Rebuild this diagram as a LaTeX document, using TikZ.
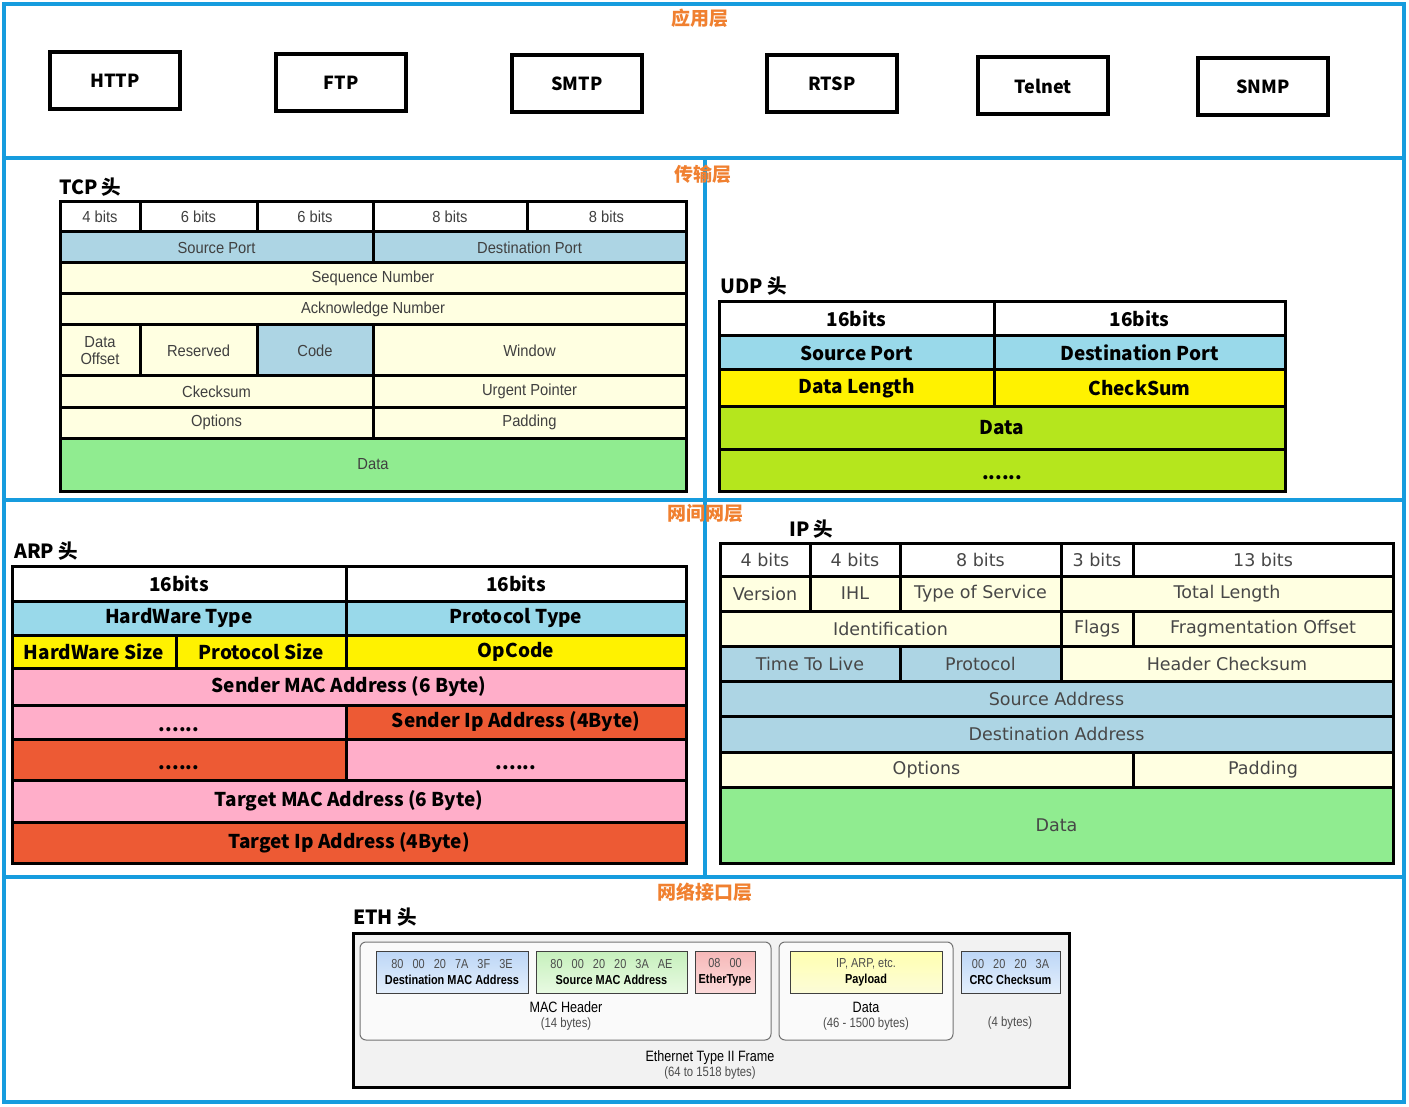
\documentclass[tikz,border=0pt]{standalone}
\usepackage{fontspec}
\usepackage{xcolor}
\usetikzlibrary{positioning}
\newfontfamily\cjk{Noto Sans CJK SC}
\newfontfamily\tcpfont[FakeStretch=0.92]{Liberation Sans}
\newfontfamily\ipfont{DejaVu Sans}
\newfontfamily\ethfont[FakeStretch=0.84]{Liberation Sans}
\definecolor{layerblue}{RGB}{22,156,222}
\definecolor{layerorange}{RGB}{240,128,48}
\definecolor{paleblue}{RGB}{173,213,228}
\definecolor{cream}{RGB}{255,255,225}
\definecolor{palegreen}{RGB}{144,236,144}
\definecolor{skyblue}{RGB}{153,217,234}
\definecolor{brightyellow}{RGB}{255,242,0}
\definecolor{limegreen}{RGB}{181,230,29}
\definecolor{rosepink}{RGB}{255,174,201}
\definecolor{brickred}{RGB}{237,90,52}
\definecolor{ethgray}{RGB}{242,242,242}
\definecolor{macblueA}{RGB}{188,214,246}
\definecolor{macblueB}{RGB}{228,239,252}
\definecolor{macgreenA}{RGB}{198,240,188}
\definecolor{macgreenB}{RGB}{232,250,226}
\definecolor{macredA}{RGB}{246,184,184}
\definecolor{macredB}{RGB}{252,218,218}
\definecolor{payyellowA}{RGB}{255,255,176}
\definecolor{payyellowB}{RGB}{252,252,216}
\tikzset{
  layerline/.style={layerblue, line width=4pt},
  layertitle/.style={text=layerorange, inner sep=0pt, font=\cjk\bfseries\fontsize{19}{22}\selectfont},
  hdrtitle/.style={anchor=west, inner sep=0pt, font=\cjk\bfseries\fontsize{19.5}{22}\selectfont},
  appbox/.style={draw=black, line width=4pt, fill=white, minimum width=130pt, minimum height=57pt,
    font=\cjk\bfseries\fontsize{18}{21}\selectfont},
  tcpcell/.style={draw=black, line width=3pt, text=black!75, font=\tcpfont\fontsize{16}{17}\selectfont},
  boldcell/.style={draw=black, line width=3pt, text=black, font=\cjk\bfseries\fontsize{19}{22}\selectfont},
  ipcell/.style={draw=black, line width=3pt, text=black!72, font=\ipfont\fontsize{17.5}{20}\selectfont},
  ethpart/.style={draw=black!55, line width=1pt, rounded corners=6pt, fill=white!60!ethgray},
  ethfield/.style={draw=black!75, line width=1pt, align=center, font=\ethfont\fontsize{13}{16}\selectfont},
  ethtext/.style={align=center, font=\ethfont\fontsize{15}{15}\selectfont},
  dots/.style={yshift=-8pt}
}

\begin{document}
\begin{tikzpicture}[x=1pt, y=-1pt]
  \useasboundingbox (0,0) rectangle (1409,1107);

  % 分层框线
  \draw[layerline] (4,4) rectangle (1404,1102);
  \draw[layerline] (4,158) -- (1404,158);
  \draw[layerline] (4,500) -- (1404,500);
  \draw[layerline] (4,877) -- (1404,877);
  \draw[layerline] (705,158) -- (705,877);
  \node[layertitle] (appl) at (700,18) {应用层};
  \node[layertitle] (tranl) at (703,174) {传输层};
  \node[layertitle] (netl) at (705,513) {网间网层};
  \node[layertitle] (linkl) at (705,892) {网络接口层};

  % 应用层协议
  \node[appbox] (http) at (115,80.5) {HTTP};
  \node[appbox] (ftp) at (341,82.5) {FTP};
  \node[appbox] (smtp) at (577,84) {SMTP};
  \node[appbox] (rtsp) at (832,84) {RTSP};
  \node[appbox] (telnet) at (1043,86) {Telnet};
  \node[appbox] (snmp) at (1263,86.5) {SNMP};

  % TCP 头
  \node[hdrtitle] (tcptitle) at (59,187) {TCP 头};
  \draw[tcpcell, fill=white] (60,202) rectangle node (tcpb1) {4 bits} (140,232);
  \draw[tcpcell, fill=white] (140,202) rectangle node (tcpb2) {6 bits} (257,232);
  \draw[tcpcell, fill=white] (257,202) rectangle node (tcpb3) {6 bits} (373,232);
  \draw[tcpcell, fill=white] (373,202) rectangle node (tcpb4) {8 bits} (527,232);
  \draw[tcpcell, fill=white] (527,202) rectangle node (tcpb5) {8 bits} (686,232);
  \draw[tcpcell, fill=paleblue] (60,232) rectangle node (tcpsrc) {Source Port} (373,263);
  \draw[tcpcell, fill=paleblue] (373,232) rectangle node (tcpdst) {Destination Port} (686,263);
  \draw[tcpcell, fill=cream] (60,263) rectangle node (tcpseq) {Sequence Number} (686,294);
  \draw[tcpcell, fill=cream] (60,294) rectangle node (tcpack) {Acknowledge Number} (686,325);
  \draw[tcpcell, fill=cream] (60,325) rectangle node[align=center] (tcpoff) {Data\\Offset} (140,376);
  \draw[tcpcell, fill=cream] (140,325) rectangle node (tcpres) {Reserved} (257,376);
  \draw[tcpcell, fill=paleblue] (257,325) rectangle node (tcpcode) {Code} (373,376);
  \draw[tcpcell, fill=cream] (373,325) rectangle node (tcpwin) {Window} (686,376);
  \draw[tcpcell, fill=cream] (60,376) rectangle node (tcpsum) {Ckecksum} (373,407);
  \draw[tcpcell, fill=cream] (373,376) rectangle node (tcpurg) {Urgent Pointer} (686,407);
  \draw[tcpcell, fill=cream] (60,407) rectangle node (tcpopt) {Options} (373,438);
  \draw[tcpcell, fill=cream] (373,407) rectangle node (tcppad) {Padding} (686,438);
  \draw[tcpcell, fill=palegreen] (60,438) rectangle node (tcpdata) {Data} (686,491);

  % UDP 头
  \node[hdrtitle] (udptitle) at (720,286) {UDP 头};
  \draw[boldcell, fill=white] (719,302) rectangle node (udpb1) {16bits} (994,336);
  \draw[boldcell, fill=white] (994,302) rectangle node (udpb2) {16bits} (1285,336);
  \draw[boldcell, fill=skyblue] (719,336) rectangle node (udpsrc) {Source Port} (994,370);
  \draw[boldcell, fill=skyblue] (994,336) rectangle node (udpdst) {Destination Port} (1285,370);
  \draw[boldcell, fill=brightyellow] (719,370) rectangle node (udplen) {Data Length} (994,406);
  \draw[boldcell, fill=brightyellow] (994,370) rectangle node (udpsum) {CheckSum} (1285,406);
  \draw[boldcell, fill=limegreen] (719,406) rectangle node (udpdata) {Data} (1285,449);
  \draw[boldcell, fill=limegreen] (719,449) rectangle node[dots] (udpmore) {......} (1285,491);

  % ARP 头
  \node[hdrtitle] (arptitle) at (14,551) {ARP 头};
  \draw[boldcell, fill=white] (12,566) rectangle node (arpb1) {16bits} (346,601);
  \draw[boldcell, fill=white] (346,566) rectangle node (arpb2) {16bits} (686,601);
  \draw[boldcell, fill=skyblue] (12,601) rectangle node (arphwt) {HardWare Type} (346,635);
  \draw[boldcell, fill=skyblue] (346,601) rectangle node (arppt) {Protocol Type} (686,635);
  \draw[boldcell, fill=brightyellow] (12,635) rectangle node (arphws) {HardWare Size} (176,668);
  \draw[boldcell, fill=brightyellow] (176,635) rectangle node (arpps) {Protocol Size} (346,668);
  \draw[boldcell, fill=brightyellow] (346,635) rectangle node (arpop) {OpCode} (686,668);
  \draw[boldcell, fill=rosepink] (12,668) rectangle node (arpsmac) {Sender MAC Address (6 Byte)} (686,705);
  \draw[boldcell, fill=rosepink] (12,705) rectangle node[dots] (arpsmac2) {......} (346,739);
  \draw[boldcell, fill=brickred] (346,705) rectangle node (arpsip) {Sender Ip Address (4Byte)} (686,739);
  \draw[boldcell, fill=brickred] (12,739) rectangle node[dots] (arpsip2) {......} (346,780);
  \draw[boldcell, fill=rosepink] (346,739) rectangle node[dots] (arptmac1) {......} (686,780);
  \draw[boldcell, fill=rosepink] (12,780) rectangle node (arptmac) {Target MAC Address (6 Byte)} (686,822);
  \draw[boldcell, fill=brickred] (12,822) rectangle node (arptip) {Target Ip Address (4Byte)} (686,863);

  % IP 头
  \node[hdrtitle] (iptitle) at (789,529) {IP 头};
  \draw[ipcell, fill=white] (720,543) rectangle node (ipb1) {4 bits} (810,576);
  \draw[ipcell, fill=white] (810,543) rectangle node (ipb2) {4 bits} (900,576);
  \draw[ipcell, fill=white] (900,543) rectangle node (ipb3) {8 bits} (1061,576);
  \draw[ipcell, fill=white] (1061,543) rectangle node (ipb4) {3 bits} (1133,576);
  \draw[ipcell, fill=white] (1133,543) rectangle node (ipb5) {13 bits} (1393,576);
  \draw[ipcell, fill=cream] (720,576) rectangle node (ipver) {Version} (810,611);
  \draw[ipcell, fill=cream] (810,576) rectangle node (ipihl) {IHL} (900,611);
  \draw[ipcell, fill=cream] (900,576) rectangle node (iptos) {Type of Service} (1061,611);
  \draw[ipcell, fill=cream] (1061,576) rectangle node (iplen) {Total Length} (1393,611);
  \draw[ipcell, fill=cream] (720,611) rectangle node (ipid) {Identification} (1061,646);
  \draw[ipcell, fill=cream] (1061,611) rectangle node (ipflag) {Flags} (1133,646);
  \draw[ipcell, fill=cream] (1133,611) rectangle node (ipfrag) {Fragmentation Offset} (1393,646);
  \draw[ipcell, fill=paleblue] (720,646) rectangle node (ipttl) {Time To Live} (900,681);
  \draw[ipcell, fill=paleblue] (900,646) rectangle node (ipproto) {Protocol} (1061,681);
  \draw[ipcell, fill=cream] (1061,646) rectangle node (ipsum) {Header Checksum} (1393,681);
  \draw[ipcell, fill=paleblue] (720,681) rectangle node (ipsrc) {Source Address} (1393,716);
  \draw[ipcell, fill=paleblue] (720,716) rectangle node (ipdst) {Destination Address} (1393,752);
  \draw[ipcell, fill=cream] (720,752) rectangle node (ipopt) {Options} (1133,787);
  \draw[ipcell, fill=cream] (1133,752) rectangle node (ippad) {Padding} (1393,787);
  \draw[ipcell, fill=palegreen] (720,787) rectangle node (ipdata) {Data} (1393,863);

  % ETH 头
  \node[hdrtitle] (ethtitle) at (353,917) {ETH 头};
  \draw[line width=3pt, fill=ethgray] (353,933) rectangle (1069,1087);
  \draw[ethpart] (360,942) rectangle (771,1040);
  \draw[ethpart] (779,942) rectangle (953,1040);
  \draw[ethfield, top color=macblueA, bottom color=macblueB] (376,951) rectangle
    node (ethdst) {\color{black!70}80~~~00~~~20~~~7A~~~3F~~~3E\\\textbf{Destination MAC Address}} (528,993);
  \draw[ethfield, top color=macgreenA, bottom color=macgreenB] (536,951) rectangle
    node (ethsrc) {\color{black!70}80~~~00~~~20~~~20~~~3A~~~AE\\\textbf{Source MAC Address}} (687,993);
  \draw[ethfield, top color=macredA, bottom color=macredB] (695,951) rectangle
    node (ethtype) {\color{black!70}08~~~00\\\textbf{EtherType}} (755,993);
  \draw[ethfield, top color=payyellowA, bottom color=payyellowB] (790,951) rectangle
    node (ethpay) {\color{black!70}IP, ARP, etc.\\\textbf{Payload}} (942,993);
  \draw[ethfield, top color=macblueA, bottom color=macblueB] (961,951) rectangle
    node (ethcrc) {\color{black!70}00~~~20~~~20~~~3A\\\textbf{CRC Checksum}} (1060,993);
  \node[ethtext] (machdr) at (566,1016) {MAC Header\\{\color{black!70}\fontsize{13.5}{14}\selectfont(14 bytes)}};
  \node[ethtext] (ethdata) at (866,1016) {Data\\{\color{black!70}\fontsize{13.5}{14}\selectfont(46 - 1500 bytes)}};
  \node[ethtext, text=black!70, font=\ethfont\fontsize{13.5}{14}\selectfont] (crcsize) at (1010,1023) {(4 bytes)};
  \node[ethtext] (ethframe) at (710,1065) {Ethernet Type II Frame\\{\color{black!70}\fontsize{13.5}{14}\selectfont(64 to 1518 bytes)}};

\end{tikzpicture}
\end{document}
